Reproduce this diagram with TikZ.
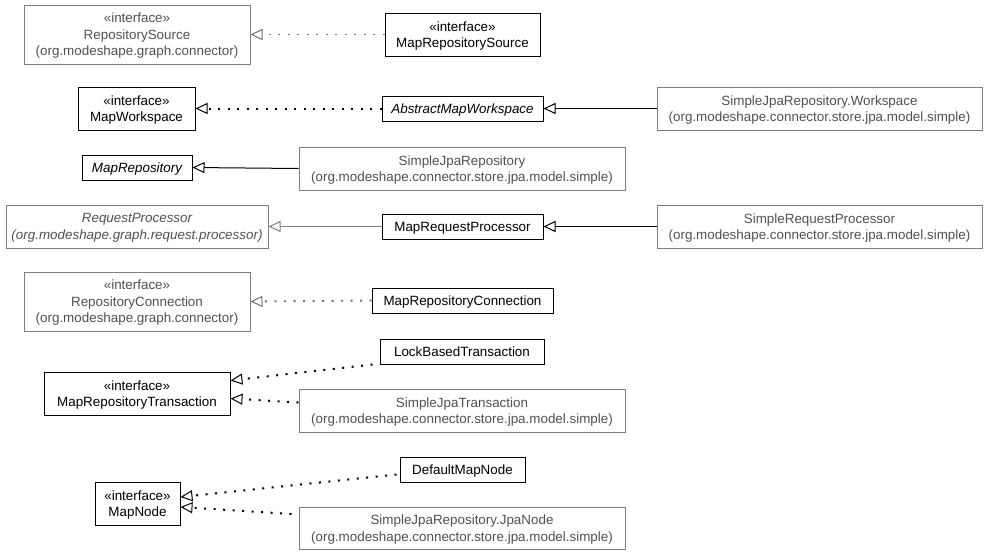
\documentclass[tikz,border=0pt]{standalone}
\usepackage{fontspec}
\setmainfont{Liberation Sans}
\usetikzlibrary{arrows.meta}
\definecolor{gborder}{HTML}{808080}
\definecolor{gdots}{HTML}{707070}
\definecolor{gtext}{HTML}{505050}
\tikzset{
  umlfont/.style={font=\fontsize{13.4}{16.6}\selectfont},
  umlbox/.style={draw=black, rectangle, inner sep=0pt, align=center, line width=1pt,
    umlfont, text=black, text depth=0pt},
  graybox/.style={umlbox, draw=gborder, text=gtext},
  itbox/.style={font=\fontsize{13.4}{16.6}\selectfont\itshape},
  realize/.style={line width=2pt, dash pattern=on 2pt off 7.5pt,
    -{Triangle[open, length=12pt, width=11pt, line width=1pt, fill=white]}},
  grayrealize/.style={realize, draw=gdots, line width=1.9pt},
  inherit/.style={line width=1pt, -{Triangle[open, length=12pt, width=11pt, fill=white]}},
  grayinherit/.style={inherit, draw=gborder},
}
\begin{document}
\begin{tikzpicture}[x=1pt, y=-1pt]
\useasboundingbox (0,0) rectangle (989,555);
% row 1
\node[graybox, minimum width=226pt, minimum height=59pt] (rs) at (137,34.5) {«interface»\\RepositorySource\\(org.modeshape.graph.connector)};
\node[umlbox, minimum width=155pt, minimum height=43pt] (mrs) at (462.5,34.5) {«interface»\\MapRepositorySource};
% row 2
\node[umlbox, minimum width=117pt, minimum height=43pt] (mw) at (136.5,108.5) {«interface»\\MapWorkspace};
\node[umlbox, itbox, minimum width=161pt, minimum height=25pt] (amw) at (462.5,108.5) {AbstractMapWorkspace};
\node[graybox, minimum width=325pt, minimum height=43pt] (sjrw) at (819.5,108.5) {SimpleJpaRepository.Workspace\\(org.modeshape.connector.store.jpa.model.simple)};
% row 3
\node[umlbox, itbox, minimum width=110pt, minimum height=25pt] (mr) at (137,167.5) {MapRepository};
\node[graybox, minimum width=326pt, minimum height=43pt] (sjr) at (462,168.5) {SimpleJpaRepository\\(org.modeshape.connector.store.jpa.model.simple)};
% row 4
\node[graybox, itbox, minimum width=262pt, minimum height=43pt] (rp) at (137,226.5) {RequestProcessor\\(org.modeshape.graph.request.processor)};
\node[umlbox, minimum width=161pt, minimum height=25pt] (mrp) at (462.5,226.5) {MapRequestProcessor};
\node[graybox, minimum width=325pt, minimum height=43pt] (srp) at (819.5,226.5) {SimpleRequestProcessor\\(org.modeshape.connector.store.jpa.model.simple)};
% row 5
\node[graybox, minimum width=226pt, minimum height=59pt] (rc) at (137,301.5) {«interface»\\RepositoryConnection\\(org.modeshape.graph.connector)};
\node[umlbox, minimum width=181pt, minimum height=25pt] (mrc) at (462.5,300.5) {MapRepositoryConnection};
% row 6
\node[umlbox, minimum width=164pt, minimum height=25pt] (lbt) at (462,351.5) {LockBasedTransaction};
\node[umlbox, minimum width=186pt, minimum height=43pt] (mrt) at (137,393.5) {«interface»\\MapRepositoryTransaction};
\node[graybox, minimum width=326pt, minimum height=43pt] (sjt) at (462,410.5) {SimpleJpaTransaction\\(org.modeshape.connector.store.jpa.model.simple)};
% row 7
\node[umlbox, minimum width=125pt, minimum height=25pt] (dmn) at (462.5,469.5) {DefaultMapNode};
\node[umlbox, minimum width=85pt, minimum height=43pt] (mn) at (137.5,503.5) {«interface»\\MapNode};
\node[graybox, minimum width=326pt, minimum height=42pt] (jpn) at (462,528) {SimpleJpaRepository.JpaNode\\(org.modeshape.connector.store.jpa.model.simple)};
% edges
\draw[grayrealize] (mrs.west) -- (rs.east);
\draw[realize] (amw.west) -- (mw.east);
\draw[inherit] (sjrw.west) -- (amw.east);
\draw[inherit] (sjr.west) -- (mr.east);
\draw[grayinherit] (mrp.west) -- (rp.east);
\draw[inherit] (srp.west) -- (mrp.east);
\draw[grayrealize] (mrc.west) -- (rc.east);
\draw[realize] ([xshift=-7pt]lbt.south west) -- ([yshift=13pt]mrt.east);
\draw[realize] ([yshift=8pt]sjt.west) -- ([yshift=-5pt]mrt.east);
\draw[realize] ([xshift=-3pt,yshift=-5pt]dmn.west) -- ([yshift=6.5pt]mn.east);
\draw[realize] ([xshift=-7pt,yshift=14pt]jpn.west) -- ([yshift=-3.5pt]mn.east);
\end{tikzpicture}
\end{document}
